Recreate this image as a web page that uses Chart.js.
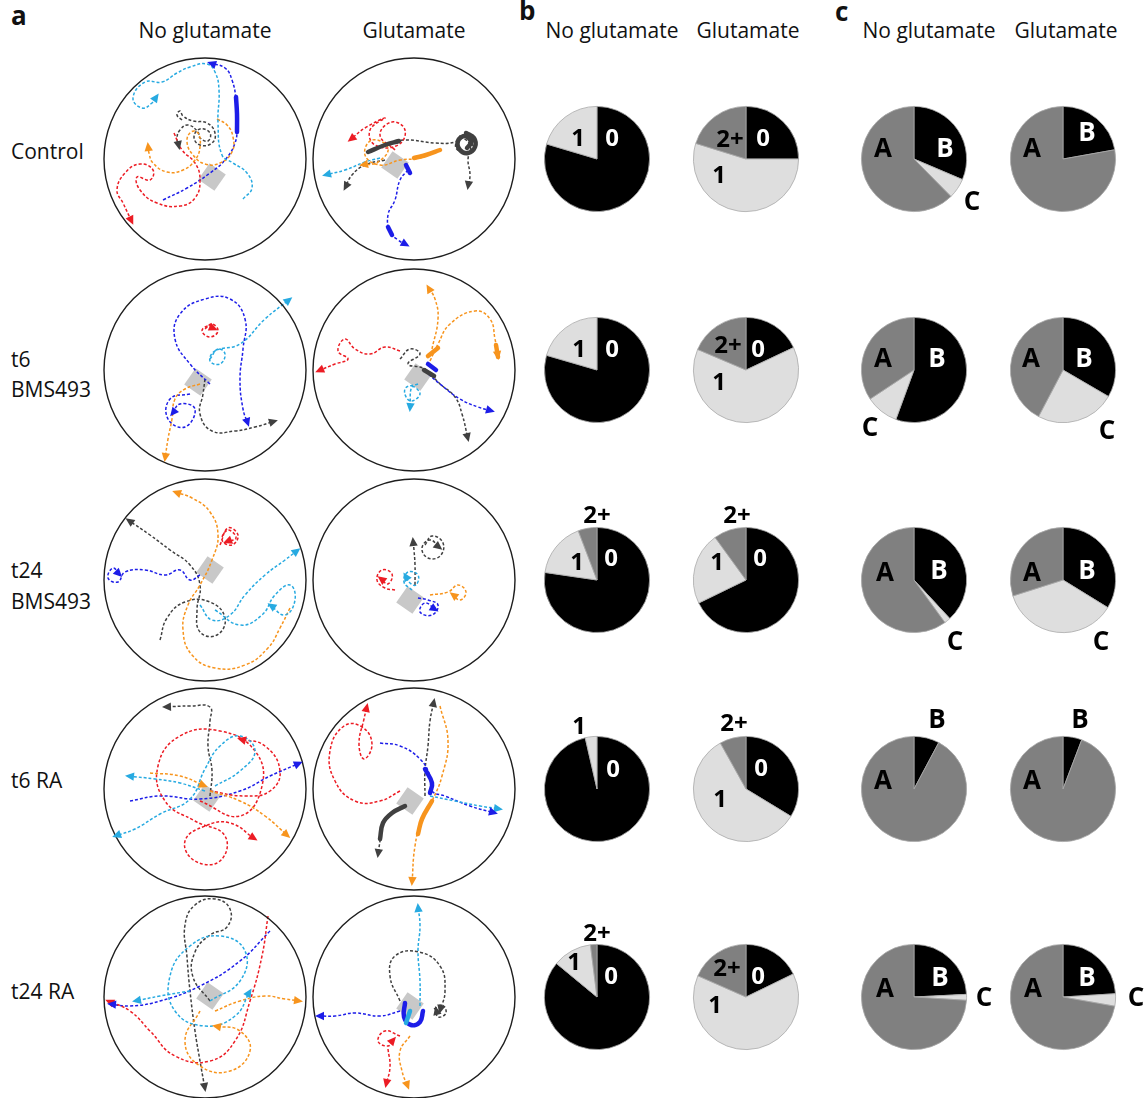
<!DOCTYPE html>
<html>
<head>
<meta charset="utf-8">
<script src="https://cdn.jsdelivr.net/npm/chart.js@4/dist/chart.umd.min.js"></script>
<style>
  html, body { margin: 0; padding: 0; background: #fff; }
  body { width: 1148px; height: 1098px; position: relative; overflow: hidden;
         font-family: "Open Sans", "Noto Sans", sans-serif; color: #111; }
  canvas { position: absolute; }
  .t { position: absolute; white-space: nowrap; font-size: 21px; line-height: 1; }
  .h { transform: translateX(-50%); }
  .p { font-weight: 700; font-size: 26px; }
</style>
</head>
<body>
<div class="t p" style="left:11px;top:2px">a</div>
<div class="t p" style="left:519px;top:-3px">b</div>
<div class="t p" style="left:835px;top:-2px">c</div>

<div class="t h" style="left:205px;top:20px">No glutamate</div>
<div class="t h" style="left:414px;top:20px">Glutamate</div>
<div class="t h" style="left:612px;top:20px">No glutamate</div>
<div class="t h" style="left:748px;top:20px">Glutamate</div>
<div class="t h" style="left:929px;top:20px">No glutamate</div>
<div class="t h" style="left:1066px;top:20px">Glutamate</div>

<div class="t" style="left:11px;top:141px">Control</div>
<div class="t" style="left:11px;top:349px">t6</div>
<div class="t" style="left:11px;top:379px">BMS493</div>
<div class="t" style="left:11px;top:560px">t24</div>
<div class="t" style="left:11px;top:591px">BMS493</div>
<div class="t" style="left:11px;top:770px">t6 RA</div>
<div class="t" style="left:11px;top:981px">t24 RA</div>

<script>
// ---------- pie data (percent of cells) ----------
const conditions = ['Control', 't6 BMS493', 't24 BMS493', 't6 RA', 't24 RA'];
const crossingLabels = ['0', '1', '2+'];
const zeroNoGlu = [79.6, 79.5, 77.3, 96.4, 86.0];
const oneNoGlu  = [20.4, 20.5, 16.9,  3.6, 12.0];
const twoNoGlu  = [ 0.0,  0.0,  5.8,  0.0,  2.0];
const zeroGlu   = [25.0, 18.0, 67.8, 33.7, 17.8];
const oneGlu    = [54.8, 63.4, 22.2, 58.2, 63.8];
const twoGlu    = [20.2, 18.6, 10.0,  8.1, 18.4];

const typeLabels = ['B', 'C', 'A'];
const typeBNoGlu = [31.4, 55.6, 38.1,  7.8, 24.2];
const typeCNoGlu = [ 6.2, 10.1,  1.9,  0.0,  1.8];
const typeANoGlu = [62.4, 34.3, 60.0, 92.2, 74.0];
const typeBGlu   = [22.2, 33.4, 33.8,  5.8, 24.0];
const typeCGlu   = [ 0.0, 24.3, 36.3,  0.0,  3.8];
const typeAGlu   = [77.8, 42.3, 29.9, 94.2, 72.2];

// ---------- tracks: positions in px relative to arena centre (y down) ----------
const tracksControlNoGlu = {
  cyan:   [[[38,40],[47,29],[42,14],[28,4],[17,-4],[13,-36],[14,-69],[10,-87],[2,-95],[-15,-92],[-28,-86],[-43,-77],[-60,-77],[-72,-61],[-63,-51],[-53,-56],[-48,-63]]],
  blue:   [[[-42,41],[-18,29],[5,14],[20,1],[30,-16],[32,-32],[31,-59],[27,-79],[20,-91],[5,-96]]],
  red:    [[[-31,-26],[-23,-9],[-10,4],[-5,21],[-10,39],[-25,47],[-48,44],[-65,31],[-68,18],[-55,21],[-52,11],[-65,5],[-80,14],[-88,31],[-82,44],[-73,63]]],
  orange: [[[12,-40],[22,-34],[28,-22],[27,-7],[15,4],[0,5],[-12,-4],[-18,-17],[-14,-27],[-7,-26],[-5,-12],[-10,1],[-22,11],[-38,13],[-52,4],[-56,-6],[-57,-14]]],
  grey:   [[[-23,-39],[-28,-44],[-25,-48],[-22,-43],[-12,-38],[2,-36],[10,-26],[7,-16],[-5,-14],[-11,-22],[-5,-30],[5,-26],[3,-18],[-5,-21],[-7,-27],[-17,-34],[-25,-29],[-28,-21],[-26,-12]]],
  contactBlue: [[[32,-27],[32,-45],[31,-62]]],
  bead: [7, 18]
};
const tracksControlGlu = {
  grey:   [[[-46,-7],[-29,-14],[-9,-19],[21,-16],[41,-17],[48,-24],[58,-19],[54,-7],[42,-11],[46,-21],[56,-14],[54,1],[56,16],[54,28]],
           [[-29,1],[-49,6],[-62,16],[-69,29]]],
  red:    [[[-19,-9],[-34,-24],[-22,-37],[-9,-29],[-16,-14],[-39,-14],[-44,-29],[-29,-41],[-49,-31],[-64,-19]]],
  orange: [[[26,-9],[6,-1],[-14,1],[-34,6],[-49,-4],[-42,-19],[-26,-11],[-36,3],[-52,6]]],
  cyan:   [[[-34,-1],[-49,3],[-69,11],[-89,16]]],
  blue:   [[[-6,11],[-14,21],[-19,41],[-26,56],[-24,73],[-16,81],[-7,86]]],
  contactGrey: [[[-46,-7],[-29,-14],[-15,-18]], [[52,-26],[60,-21],[61,-12],[54,-6],[46,-9],[44,-18],[51,-23],[57,-17],[53,-11]]],
  contactOrange: [[[26,-9],[12,-4],[0,-1]]],
  contactBlue: [[[-8,6],[-4,14]], [[-26,68],[-22,76]]],
  bead: [-19, 6]
};
const tracksT6BmsNoGlu = {
  blue:   [[[5,14],[-15,-6],[-30,-31],[-25,-56],[0,-71],[25,-71],[40,-51],[38,-21],[35,9],[38,39],[43,54]],
           [[-15,24],[-35,29],[-37,49],[-20,57],[-10,39],[-25,34],[-33,44]]],
  red:    [[[0,-41],[7,-46],[13,-39],[5,-33],[-3,-39],[3,-44],[10,-41]]],
  cyan:   [[[5,-11],[13,-21],[20,-16],[15,-6],[5,-9],[10,-19],[35,-26],[60,-51],[85,-71]]],
  orange: [[[-5,14],[-20,19],[-30,29],[-33,49],[-37,69],[-40,89]]],
  grey:   [[[0,9],[-2,24],[-5,44],[7,61],[30,61],[50,57],[70,51]]],
  bead: [-7, 12]
};
const tracksT6BmsGlu = {
  red:    [[[-14,-19],[-29,-23],[-44,-16],[-59,-21],[-69,-31],[-76,-19],[-66,-11],[-79,-6],[-96,1]]],
  grey:   [[[-14,-11],[-4,-21],[6,-16],[-6,-6],[11,-1],[26,14],[41,27],[48,44],[54,69]]],
  orange: [[[16,-9],[24,-26],[36,-46],[61,-59],[76,-51],[81,-31],[84,-13]],
           [[18,-21],[24,-51],[21,-71],[14,-83]]],
  blue:   [[[11,1],[26,14],[46,29],[64,37],[78,41]]],
  cyan:   [[[4,14],[-9,19],[-4,31],[6,24],[-2,17],[-4,39]]],
  contactOrange: [[[82,-25],[84,-13]], [[14,-14],[24,-22]]],
  contactGrey: [[[10,0],[20,6]]],
  contactBlue: [[[14,-6],[22,0]]],
  bead: [4, 7]
};
const tracksT24BmsNoGlu = {
  grey:   [[[-45,60],[-38,38],[-20,22],[5,22],[20,38],[12,55],[-5,52],[-8,30],[-5,5],[-15,-15],[-35,-30],[-55,-45],[-77,-60]]],
  orange: [[[85,28],[75,48],[63,68],[40,85],[10,88],[-13,75],[-22,50],[-17,25],[-5,5],[7,-20],[13,-45],[5,-68],[-13,-82],[-30,-88]]],
  red:    [[[15,-35],[23,-52],[33,-45],[27,-35],[17,-40],[23,-50],[31,-42],[21,-38]]],
  cyan:   [[[-5,25],[7,40],[25,35],[40,15],[60,-5],[80,-20],[93,-30]],
           [[10,30],[35,45],[57,35],[70,15],[85,5],[90,20],[80,35],[65,25]]],
  blue:   [[[-5,-5],[-15,0],[-25,-10],[-40,-5],[-60,-10],[-80,-8],[-87,2],[-97,-2],[-92,-12],[-85,-5]]],
  bead: [5, -10]
};
const tracksT24BmsGlu = {
  grey:   [[[1,5],[1,-15],[0,-30],[-1,-40]],
           [[11,-35],[18,-44],[29,-37],[26,-24],[14,-22],[8,-32],[16,-40],[26,-32]]],
  cyan:   [[[-2,10],[-10,2],[-6,-8],[4,-5],[2,5],[-4,3],[-9,-5]]],
  red:    [[[-19,10],[-29,8],[-37,0],[-32,-10],[-22,-6],[-26,4],[-34,-2]]],
  orange: [[[16,15],[34,12],[44,5],[52,12],[46,20],[38,14]]],
  blue:   [[[4,18],[14,20],[24,25],[18,35],[6,32],[11,23],[22,30]]],
  bead: [-4, 20]
};
const tracksT6RaNoGlu = {
  grey:   [[[5,7],[7,-18],[3,-43],[5,-68],[5,-82],[-15,-83],[-40,-82]]],
  red:    [[[-5,12],[35,27],[57,-3],[50,-38],[15,-58],[-25,-53],[-47,-23],[-40,12],[-10,32],[20,47],[15,72],[-10,72],[-20,52],[0,37],[25,34],[50,50]],
           [[5,2],[40,7],[65,2],[75,-18],[60,-43],[35,-50]]],
  cyan:   [[[0,2],[-25,-6],[-50,-10],[-77,-13]],
           [[10,-3],[35,-18],[50,-38],[35,-53],[15,-43],[0,-20],[-15,10],[-45,25],[-70,40],[-90,47]]],
  orange: [[[5,2],[35,12],[60,27],[83,47]],
           [[-55,-16],[-25,-13],[0,-3]]],
  blue:   [[[-75,12],[-45,7],[-5,10],[35,2],[65,-13],[95,-26]]],
  bead: [2, 9]
};
const tracksT6RaGlu = {
  grey:   [[[11,7],[11,-18],[14,-43],[16,-68],[20,-88]],
           [[-9,17],[-22,24],[-31,34],[-34,52],[-36,66]]],
  red:    [[[-14,2],[-34,12],[-59,12],[-79,-8],[-84,-38],[-70,-63],[-52,-62],[-42,-45],[-50,-30],[-55,-45],[-50,-70],[-47,-83]]],
  blue:   [[[-34,-46],[-14,-43],[6,-30],[16,-13],[18,2],[31,7],[56,17],[81,24]]],
  orange: [[[26,-83],[34,-48],[28,-13],[18,12],[8,30],[1,57],[-2,94]]],
  cyan:   [[[16,7],[41,12],[66,17],[86,20]]],
  contactGrey: [[[-9,17],[-22,24],[-31,34],[-34,50]]],
  contactBlue: [[[11,-20],[18,-6],[16,4]]],
  contactOrange: [[[18,12],[8,30],[4,45]]],
  bead: [-4, 12]
};
const tracksT24RaNoGlu = {
  grey:   [[[5,4],[-12,-20],[-10,-45],[5,-62],[22,-70],[25,-88],[10,-98],[-10,-92],[-20,-72],[-18,-40],[-15,-6],[-10,34],[-5,64],[0,92]]],
  blue:   [[[65,-66],[35,-36],[-5,-11],[-45,4],[-75,9],[-95,7]]],
  red:    [[[63,-81],[57,-41],[45,4],[30,44],[5,64],[-30,59],[-55,34],[-75,14],[-97,4]]],
  orange: [[[10,14],[35,4],[60,-1],[80,2],[95,4]],
           [[-5,14],[-20,44],[-5,69],[25,74],[45,54],[35,34],[10,29]]],
  cyan:   [[[5,4],[35,-16],[40,-46],[15,-61],[-15,-51],[-35,-21],[-30,14],[0,29],[30,19],[45,-6]],
           [[-15,-6],[-45,-1],[-70,4]]],
  bead: [5, -1]
};
const tracksT24RaGlu = {
  cyan:   [[[6,9],[6,-16],[4,-46],[6,-71],[4,-91]]],
  blue:   [[[-14,14],[-34,19],[-59,16],[-79,19],[-96,19]]],
  grey:   [[[-14,4],[-24,-21],[-19,-41],[5,-45],[26,-31],[31,-6],[26,14]],
           [[20,12],[28,8],[32,16],[24,20],[22,12]]],
  red:    [[[-14,39],[-29,34],[-36,44],[-26,49],[-20,42]],
           [[-26,52],[-24,70],[-28,88]]],
  orange: [[[-4,39],[-14,54],[-12,74],[-6,90]]],
  contactCyan: [[[-4,14],[-8,26]]],
  contactBlue: [[[-9,6],[-10,20],[-3,28],[6,25],[9,14]]],
  bead: [-4, 9]
};

// ---------- styling ----------
const trackColors = { red: '#ec1c24', orange: '#f7941d', cyan: '#27aae1', blue: '#1d1de8', grey: '#404040' };
const sliceColorsB = ['#000000', '#dedede', '#808080'];
const sliceColorsC = ['#000000', '#dedede', '#808080'];
const ARENA_R = 101;      // arena radius in px
const ARENA_HALF = 108;   // half size of arena canvas
const PIE_R = 53;
const PIE_HALF = 92;

const rowY = [159, 370, 580, 789, 997];
const arenaX = [205, 414];
const pieX = [597, 746, 914, 1062.5];

const arenas = [
  [tracksControlNoGlu, tracksControlGlu],
  [tracksT6BmsNoGlu, tracksT6BmsGlu],
  [tracksT24BmsNoGlu, tracksT24BmsGlu],
  [tracksT6RaNoGlu, tracksT6RaGlu],
  [tracksT24RaNoGlu, tracksT24RaGlu]
];

// label placement (px offsets from pie centre)
const labelsB = [
  [[['1',-19,-20],['0',15,-20]], [['2+',-16,-19],['0',17,-20],['1',-27,17]]],
  [[['1',-18,-20],['0',15,-20]], [['2+',-18,-24],['0',12,-20],['1',-27,13]]],
  [[['2+',0,-64],['1',-20,-17],['0',14,-21]], [['2+',-9,-64],['1',-29,-17],['0',14,-21]]],
  [[['1',-18,-62],['0',16,-19]], [['2+',-12,-65],['0',15,-20],['1',-26,11]]],
  [[['2+',0,-63],['1',-23,-34],['0',14,-20]], [['2+',-19,-28],['0',12,-20],['1',-31,9]]]
];
const labelsC = [
  [[['A',-31,-9],['B',31,-9],['C',58,44]], [['A',-31,-9],['B',24,-25]]],
  [[['A',-31,-10],['B',23,-10],['C',-44,59]], [['A',-32,-10],['B',21,-10],['C',44,62]]],
  [[['A',-29,-6],['B',25,-8],['C',41,63]], [['A',-31,-6],['B',24,-8],['C',38,63]]],
  [[['A',-31,-7],['B',23,-68]], [['A',-31,-7],['B',17,-68]]],
  [[['A',-29,-7],['B',26,-18],['C',70,2]], [['A',-30,-7],['B',24,-18],['C',73,2]]]
];

// ---------- plugins ----------
const arenaRing = {
  id: 'arenaRing',
  afterDatasetsDraw(chart) {
    const { ctx, scales: { x, y } } = chart;
    const cx = x.getPixelForValue(0), cy = y.getPixelForValue(0);
    const r = x.getPixelForValue(ARENA_R) - cx;
    ctx.save();
    ctx.beginPath();
    ctx.arc(cx, cy, r, 0, Math.PI * 2);
    ctx.lineWidth = 1.4;
    ctx.strokeStyle = '#1e1e1e';
    ctx.stroke();
    ctx.restore();
  }
};

const arrowHeads = {
  id: 'arrowHeads',
  afterDatasetsDraw(chart) {
    const ctx = chart.ctx;
    chart.data.datasets.forEach((ds, i) => {
      if (!ds.arrow) return;
      const pts = chart.getDatasetMeta(i).data;
      if (pts.length < 2) return;
      const a = pts[pts.length - 1];
      let bx = pts[pts.length - 2].x, by = pts[pts.length - 2].y;
      if (a.cp1x !== undefined && Math.hypot(a.x - a.cp1x, a.y - a.cp1y) > 1) { bx = a.cp1x; by = a.cp1y; }
      const ang = Math.atan2(a.y - by, a.x - bx);
      const L = 9, W = 4.2;
      ctx.save();
      ctx.translate(a.x, a.y);
      ctx.rotate(ang);
      ctx.beginPath();
      ctx.moveTo(3, 0);
      ctx.lineTo(3 - L, -W);
      ctx.lineTo(3 - L, W);
      ctx.closePath();
      ctx.fillStyle = ds.borderColor;
      ctx.fill();
      ctx.restore();
    });
  }
};

const pieText = {
  id: 'pieText',
  afterDatasetsDraw(chart, args, opts) {
    if (!opts.items) return;
    const ctx = chart.ctx;
    const arc = chart.getDatasetMeta(0).data[0];
    const cx = arc.x, cy = arc.y;
    ctx.save();
    ctx.font = `700 ${opts.size}px "Open Sans", "Noto Sans", sans-serif`;
    ctx.textAlign = 'center';
    ctx.textBaseline = 'middle';
    opts.items.forEach(([t, dx, dy]) => {
      ctx.fillStyle = (t === '0' || t === 'B') ? '#ffffff' : '#000000';
      if ((t === '0' || t === 'B') && Math.hypot(dx, dy) > PIE_R) ctx.fillStyle = '#000000';
      ctx.fillText(t, cx + dx, cy + dy);
    });
    ctx.restore();
  }
};

// ---------- builders ----------
function makeCanvas(cx, cy, half) {
  const c = document.createElement('canvas');
  c.width = half * 2; c.height = half * 2;
  c.style.left = (cx - half) + 'px';
  c.style.top = (cy - half) + 'px';
  document.body.appendChild(c);
  return c;
}

function toXY(path) { return path.map(([x, y]) => ({ x, y })); }

function arenaDatasets(tr) {
  const ds = [];
  ds.push({
    data: [{ x: tr.bead[0], y: tr.bead[1] }],
    pointStyle: 'rect', rotation: 35, pointRadius: 14,
    backgroundColor: '#c8c8c8', borderColor: '#c8c8c8', borderWidth: 0,
    showLine: false, order: 10
  });
  ['cyan', 'orange', 'red', 'blue', 'grey'].forEach(k => {
    (tr[k] || []).forEach(p => ds.push({
      data: toXY(p), showLine: true, pointRadius: 0,
      borderColor: trackColors[k], borderWidth: 1.5, borderDash: [3, 2],
      tension: 0.45, arrow: true, order: 5
    }));
    const ck = 'contact' + k[0].toUpperCase() + k.slice(1);
    (tr[ck] || []).forEach(p => ds.push({
      data: toXY(p), showLine: true, pointRadius: 0,
      borderColor: trackColors[k], borderWidth: 4.5, borderCapStyle: 'round',
      tension: 0.4, order: 1
    }));
  });
  return ds;
}

function drawArena(tr, cx, cy) {
  const c = makeCanvas(cx, cy, ARENA_HALF);
  new Chart(c, {
    type: 'scatter',
    data: { datasets: arenaDatasets(tr) },
    options: {
      responsive: false, animation: false, devicePixelRatio: 1,
      layout: { padding: 0, autoPadding: false },
      scales: {
        x: { display: false, min: -ARENA_HALF, max: ARENA_HALF },
        y: { display: false, min: -ARENA_HALF, max: ARENA_HALF, reverse: true }
      },
      plugins: { legend: { display: false }, tooltip: { enabled: false } }
    },
    plugins: [arenaRing, arrowHeads]
  });
}

function drawPie(values, labels, colors, items, size, cx, cy) {
  const c = makeCanvas(cx, cy, PIE_HALF);
  new Chart(c, {
    type: 'pie',
    data: { labels, datasets: [{ data: values, backgroundColor: colors, borderColor: '#a9a9a9', borderWidth: 0.8 }] },
    options: {
      responsive: false, animation: false, devicePixelRatio: 1,
      layout: { padding: PIE_HALF - PIE_R },
      plugins: { legend: { display: false }, tooltip: { enabled: false }, pieText: { items, size } }
    },
    plugins: [pieText]
  });
}

conditions.forEach((name, r) => {
  drawArena(arenas[r][0], arenaX[0], rowY[r]);
  drawArena(arenas[r][1], arenaX[1], rowY[r]);
  drawPie([zeroNoGlu[r], oneNoGlu[r], twoNoGlu[r]], crossingLabels, sliceColorsB, labelsB[r][0], 24, pieX[0], rowY[r]);
  drawPie([zeroGlu[r], oneGlu[r], twoGlu[r]], crossingLabels, sliceColorsB, labelsB[r][1], 24, pieX[1], rowY[r]);
  drawPie([typeBNoGlu[r], typeCNoGlu[r], typeANoGlu[r]], typeLabels, sliceColorsC, labelsC[r][0], 26, pieX[2], rowY[r]);
  drawPie([typeBGlu[r], typeCGlu[r], typeAGlu[r]], typeLabels, sliceColorsC, labelsC[r][1], 26, pieX[3], rowY[r]);
});
</script>
</body>
</html>
